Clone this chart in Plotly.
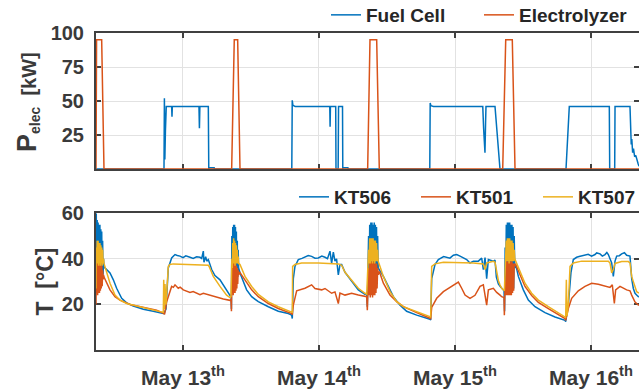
import pandas as pd
import plotly.graph_objects as go

# ---------------- data (time in hours since May 12, 00:00) ----------------
t_fc = [8.65, 20.65, 20.72, 20.80, 20.90, 21.05, 22.00, 22.06, 22.12, 26.82, 26.90, 26.98,
        28.47, 28.55, 28.60, 29.50, 29.55, 43.20, 43.28, 43.40, 43.80, 49.90, 49.96, 50.02,
        50.95, 51.00, 51.38, 51.45, 52.15, 52.20, 52.25, 53.10, 53.15, 67.55, 67.62, 67.75,
        68.20, 76.90, 77.05, 77.29, 77.40, 77.47, 79.06, 79.94, 91.59, 92.17, 99.23, 99.30,
        100.18, 100.24, 102.88, 103.00, 103.10, 103.20, 103.35, 103.50, 103.70, 103.90,
        104.10, 104.30, 104.47]
p_fc = [0, 0, 52, 7, 28, 46, 46, 38.5, 46, 46, 30, 46,
        46, 0, 1, 1, 0, 0, 50.5, 46.8, 46, 46, 31, 46,
        46, 0, 0, 46, 46, 0, 1, 1, 0, 0, 48.5, 46.5,
        46, 46, 30, 12, 35, 46, 46, 0, 0, 46, 46, 0,
        0, 46, 46, 30, 18, 22, 12, 15, 9, 10,
        6, 4, 2]

t_ely = [8.65, 8.75, 9.65, 10.06, 32.59, 33.05, 33.65, 34.06, 56.59, 57.00, 58.18, 58.64,
         80.42, 80.95, 82.11, 82.59, 104.47]
p_ely = [0, 95, 95, 0, 0, 95, 95, 0, 0, 95, 95, 0,
         0, 95, 95, 0, 0]

t_kt506 = [8.65, 8.70, 8.78, 8.86, 8.94, 9.02, 9.10, 9.18, 9.26, 9.34, 9.42, 9.50, 9.58, 9.66,
           9.74, 9.82, 9.90, 9.98, 10.06, 10.53, 11.12, 11.71, 12.29, 13.18, 14.06, 15.23,
           17.00, 18.76, 20.23, 20.65, 21.00, 21.41, 22.00, 22.59, 23.00, 23.47, 24.00, 24.50,
           25.23, 25.80, 26.40, 27.00, 27.30, 27.45, 27.59, 27.70, 27.88, 28.00, 28.20, 28.47,
           29.06, 29.64, 30.53, 31.41, 32.29, 32.47, 32.55,
           32.62, 32.70, 32.78, 32.86, 32.94, 33.02, 33.10, 33.18, 33.26, 33.34, 33.42, 33.50,
           33.58, 33.66, 33.74, 33.82, 34.06, 34.65, 35.23, 36.12, 37.29, 39.06, 40.82, 42.59,
           43.17, 43.29, 43.47, 43.76, 44.35, 45.00, 45.53, 46.10, 46.70, 47.30, 47.88, 48.50,
           49.06, 49.50, 49.94, 50.23, 50.53, 50.82, 51.10, 51.41, 51.70, 52.00, 52.59, 53.76,
           54.94, 56.12, 56.42, 56.53,
           56.75, 56.85, 56.95, 57.05, 57.15, 57.25, 57.35, 57.45, 57.55, 57.65, 57.75, 57.85,
           57.95, 58.05, 58.15, 58.25, 58.35, 58.45, 58.65, 59.36, 60.24, 61.12, 62.30, 63.47,
           65.24, 67.00, 67.59, 67.71, 67.89, 68.47, 69.06, 70.00, 70.53, 71.10, 71.71, 72.30,
           72.89, 73.50, 74.06, 74.65, 75.24, 76.12, 76.71, 77.00, 77.30, 77.59, 77.89, 78.77,
           79.06, 79.30, 79.65, 79.95, 80.24, 80.65, 80.75,
           80.85, 80.95, 81.05, 81.15, 81.25, 81.35, 81.45, 81.55, 81.65, 81.75, 81.85, 81.95,
           82.05, 82.15, 82.25, 82.35, 82.45, 82.55, 82.71, 83.18, 84.06, 84.94, 86.12, 87.88,
           89.65, 91.41, 91.53, 92.00, 92.47, 92.88, 93.47, 93.90, 94.94, 95.50, 96.10, 96.71,
           97.00, 97.59, 98.00, 98.47, 98.80, 99.06, 99.65, 99.94, 100.24, 100.53, 101.00,
           101.41, 101.90, 102.29, 102.88, 103.18, 103.47, 103.77, 104.35, 104.47]
kt506 = [28, 60, 30, 57, 28, 56, 29, 55, 27, 55, 28, 53, 29, 52,
         30, 48, 33, 40, 36.5, 35.3, 33.8, 30.8, 27.1, 22.7, 20.7, 19.3,
         17.9, 17.0, 16.3, 16.0, 18.0, 36.0, 40.4, 41.9, 41.5, 41.2, 40.5, 41.3,
         40.7, 40.2, 40.9, 40.7, 40.2, 42.5, 43.4, 38.5, 39.7, 41.0, 39.0, 39.7,
         35.3, 32.7, 30.8, 27.1, 24.0, 24.1, 18.0,
         50, 27, 54, 26, 55, 27, 55, 28, 54, 29, 52, 30,
         48, 32, 44, 36, 33.8, 30.0, 26.4, 23.4, 21.2, 19.0, 17.0, 16.0,
         15.3, 13.8, 31.3, 36.7, 39.7, 40.2, 40.7, 41.5, 41.1, 40.3, 40.4, 41.2,
         40.7, 40.1, 43.4, 38.0, 43.0, 39.0, 40.0, 33.0, 37.5, 37.5, 34.1, 30.0,
         26.4, 24.4, 24.9, 19.0,
         50, 26, 55, 25, 56, 25, 56, 26, 55, 25, 56, 26,
         55, 27, 54, 29, 50, 36, 35.3, 32.3, 27.9, 23.4, 19.7, 17.0,
         15.3, 14.1, 13.5, 13.2, 31.3, 37.5, 39.7, 41.0, 40.7, 40.3, 41.6, 41.9,
         41.2, 40.4, 39.7, 38.2, 39.0, 39.0, 40.3, 35.3, 40.6, 31.3, 39.7, 39.0,
         39.5, 32.0, 29.0, 28.0, 27.0, 26.0, 17.0,
         45, 27, 55, 26, 56, 25, 56, 25, 56, 26, 55, 25,
         55, 26, 54, 27, 50, 36, 37.5, 32.3, 26.4, 21.9, 19.0, 16.4,
         14.5, 13.0, 12.5, 19.7, 34.1, 39.7, 40.7, 41.0, 41.5, 42.0, 41.2, 41.9,
         42.6, 42.2, 41.2, 41.9, 42.8, 41.9, 38.2, 32.3, 39.0, 41.2, 41.4,
         42.2, 42.7, 41.6, 41.2, 31.3, 27.0, 24.9, 23.4, 23.5]

t_kt501 = [8.65, 8.70, 8.78, 8.86, 8.94, 9.02, 9.10, 9.18, 9.26, 9.34, 9.42, 9.50, 9.58, 9.66,
           9.74, 9.82, 9.90, 9.98, 10.06, 10.53, 11.12, 12.00, 12.88, 14.65, 17.00, 19.35,
           20.65, 20.75, 21.12, 22.00, 22.30, 22.59, 23.17, 23.50, 24.06, 24.60, 25.23, 25.80,
           26.41, 27.00, 27.59, 28.76, 29.94, 31.12, 32.29, 32.47, 32.55,
           32.62, 32.70, 32.78, 32.86, 32.94, 33.02, 33.10, 33.18, 33.26, 33.34, 33.42, 33.50,
           33.58, 33.66, 33.74, 33.82, 34.06, 34.94, 36.12, 37.29, 39.06, 40.82, 43.17, 43.29,
           43.47, 44.06, 45.53, 46.70, 47.29, 48.47, 49.06, 50.23, 50.82, 51.41, 51.70, 52.59,
           53.76, 54.94, 56.12, 56.42, 56.53,
           56.75, 56.85, 56.95, 57.05, 57.15, 57.25, 57.35, 57.45, 57.55, 57.65, 57.75, 57.85,
           57.95, 58.05, 58.15, 58.25, 58.35, 58.45, 58.65, 59.36, 60.53, 61.71, 62.89, 65.24,
           67.59, 67.71, 67.89, 68.77, 69.95, 71.12, 72.30, 72.59, 73.18, 73.77, 74.65, 75.53,
           76.42, 77.00, 77.59, 77.89, 78.77, 79.36, 79.95, 80.24, 80.65, 80.71, 80.78,
           80.85, 80.95, 81.05, 81.15, 81.25, 81.35, 81.45, 81.55, 81.65, 81.75, 81.85, 81.95,
           82.05, 82.15, 82.25, 82.35, 82.45, 82.55, 82.71, 83.47, 84.35, 85.53, 86.71, 88.47,
           90.24, 91.41, 91.53, 92.00, 92.59, 93.76, 94.94, 96.12, 97.29, 98.47, 99.35, 99.76,
           100.12, 100.35, 101.12, 102.29, 102.88, 103.18, 103.77, 104.35, 104.47]
kt501 = [20, 38, 25, 40, 24, 39, 25, 40, 25, 39, 26, 38, 27, 37,
         28, 35, 31, 33, 32, 29.3, 26.4, 23.4, 21.9, 20.0, 18.7, 17.5,
         16.0, 15.6, 21.2, 27.9, 27.5, 28.6, 27.1, 27.6, 26.4, 25.8, 25.3, 25.7,
         24.9, 24.3, 24.9, 24.1, 23.0, 22.4, 21.8, 22.1, 17.0,
         36, 25, 39, 24, 39, 25, 38, 25, 38, 26, 37, 27,
         36, 29, 35, 33, 34.0, 30.8, 26.4, 23.4, 20.4, 18.2, 16.0, 15.5,
         19.7, 26.0, 27.1, 28.6, 27.0, 26.4, 27.0, 24.9, 25.5, 20.4, 25.0, 24.1,
         24.9, 24.1, 23.4, 23.4, 17.5,
         36, 24, 39, 23, 39, 24, 39, 23, 39, 24, 39, 24,
         38, 25, 38, 27, 36, 33, 34.5, 29.3, 24.1, 21.2, 19.0, 16.4,
         14.1, 13.8, 18.7, 22.7, 25.6, 27.4, 29.3, 29.8, 27.1, 24.1, 22.7, 24.0,
         27.9, 28.6, 19.7, 26.4, 27.1, 25.3, 24.1, 23.4, 23.0, 15.3, 23.0,
         30, 24, 39, 24, 39, 24, 39, 24, 39, 24, 39, 24,
         39, 25, 38, 26, 38, 37, 37.5, 33.0, 27.9, 23.9, 20.9, 18.2,
         15.5, 13.8, 13.0, 18.2, 22.7, 26.0, 27.9, 29.3, 28.9, 27.9, 27.5, 28.6,
         20.4, 26.4, 27.9, 26.4, 26.0, 24.1, 21.0, 19.7, 19.7]

t_kt507 = [8.65, 8.70, 8.78, 8.86, 8.94, 9.02, 9.10, 9.18, 9.26, 9.34, 9.42, 9.50, 9.58, 9.66,
           9.74, 9.82, 9.90, 9.98, 10.06, 10.53, 11.12, 12.00, 12.88, 14.06, 16.41, 19.35,
           20.53, 20.60, 20.70, 20.82, 21.00, 21.41, 21.70, 22.29, 25.00, 28.47, 28.65, 29.35,
           30.53, 31.70, 32.29, 32.47,
           32.62, 32.70, 32.78, 32.86, 32.94, 33.02, 33.10, 33.18, 33.26, 33.34, 33.42, 33.50,
           33.58, 33.66, 33.74, 33.82, 34.06, 34.94, 36.12, 37.29, 39.06, 40.82, 43.17, 43.29,
           43.35, 43.76, 44.94, 47.88, 51.41, 52.00, 52.59, 53.76, 54.94, 56.12, 56.42,
           56.75, 56.85, 56.95, 57.05, 57.15, 57.25, 57.35, 57.45, 57.55, 57.65, 57.75, 57.85,
           57.95, 58.05, 58.15, 58.25, 58.35, 58.45, 58.65, 59.36, 60.53, 61.71, 62.89, 65.24,
           67.59, 67.71, 67.89, 68.47, 69.95, 72.89, 75.24, 77.00, 77.30, 77.59, 78.77, 79.06,
           79.36, 79.65, 79.95, 80.24, 80.71,
           80.85, 80.95, 81.05, 81.15, 81.25, 81.35, 81.45, 81.55, 81.65, 81.75, 81.85, 81.95,
           82.05, 82.15, 82.25, 82.35, 82.45, 82.55, 82.71, 83.47, 84.35, 85.53, 86.71, 88.47,
           90.24, 91.41, 91.53, 91.65, 91.77, 92.00, 92.30, 92.88, 94.35, 96.71, 99.06, 99.35,
           99.65, 99.94, 100.24, 101.41, 102.59, 102.88, 103.18, 103.47, 104.06, 104.47]
kt507 = [27, 45, 38, 48, 38, 48, 37, 47, 38, 47, 37, 46, 38, 45,
         37, 44, 38, 40, 38, 34.0, 29.3, 24.1, 21.9, 20.4, 19.0, 17.0,
         16.5, 30.8, 18.0, 29.0, 20.0, 36.7, 37.5, 37.8, 37.6, 37.2, 36.5, 32.3,
         27.9, 24.1, 23.0, 23.5,
         40, 36, 47, 38, 49, 38, 48, 37, 47, 38, 46, 38,
         44, 38, 41, 38, 37.5, 32.3, 27.9, 24.4, 21.1, 19.0, 16.7, 16.5,
         36.7, 37.5, 38.2, 38.2, 37.8, 37.2, 34.1, 30.8, 27.1, 24.9, 24.5,
         44, 38, 49, 38, 49, 39, 49, 38, 49, 39, 48, 38,
         48, 39, 47, 39, 44, 39, 37.5, 32.3, 25.6, 21.2, 19.0, 16.7,
         14.5, 14.5, 36.7, 37.8, 38.5, 38.5, 38.2, 37.8, 35.3, 38.2, 38.9, 38.5,
         34.0, 30.5, 28.5, 27.1, 26.0,
         40, 38, 48, 39, 49, 39, 49, 38, 49, 39, 48, 39,
         48, 39, 47, 39, 44, 40, 39.0, 34.5, 29.3, 24.9, 21.9, 19.0,
         16.4, 14.5, 14.0, 30.8, 15.0, 20.0, 36.7, 38.2, 39.0, 39.0, 39.0, 38.2,
         33.8, 35.3, 38.0, 38.8, 38.8, 38.2, 32.3, 30.0, 25.6, 25.0]

day_ticks = ["2019-05-13", "2019-05-14", "2019-05-15", "2019-05-16"]
day_labels = ["May 13<sup>th</sup>", "May 14<sup>th</sup>", "May 15<sup>th</sup>", "May 16<sup>th</sup>"]
p_ticks = [25, 50, 75, 100]
t_ticks = [20, 40, 60]

# ---------------- figure ----------------
BASE = pd.Timestamp("2019-05-12")


def to_time(hours):
    return [BASE + pd.Timedelta(hours=h) for h in hours]


BLUE, ORANGE, YELLOW = "#0072BD", "#D95319", "#EDB120"
FONT = "Liberation Sans, Arial, sans-serif"
AX = "#404040"
TXT = "#3a3a3a"
LW = 1.5

fig = go.Figure()
fig.add_trace(go.Scatter(x=to_time(t_fc), y=p_fc, name="Fuel Cell", mode="lines",
                         line=dict(color=BLUE, width=LW), xaxis="x", yaxis="y", legend="legend"))
fig.add_trace(go.Scatter(x=to_time(t_ely), y=p_ely, name="Electrolyzer", mode="lines",
                         line=dict(color=ORANGE, width=LW), xaxis="x", yaxis="y", legend="legend"))
fig.add_trace(go.Scatter(x=to_time(t_kt506), y=kt506, name="KT506", mode="lines",
                         line=dict(color=BLUE, width=LW), xaxis="x2", yaxis="y2", legend="legend2"))
fig.add_trace(go.Scatter(x=to_time(t_kt501), y=kt501, name="KT501", mode="lines",
                         line=dict(color=ORANGE, width=LW), xaxis="x2", yaxis="y2", legend="legend2"))
fig.add_trace(go.Scatter(x=to_time(t_kt507), y=kt507, name="KT507", mode="lines",
                         line=dict(color=YELLOW, width=LW), xaxis="x2", yaxis="y2", legend="legend2"))

W, H = 639, 392
L = 96
PW = W - L
xr = [BASE + pd.Timedelta(hours=8.65), BASE + pd.Timedelta(hours=104.47)]

common_x = dict(type="date", range=xr, tickvals=day_ticks, ticktext=day_labels,
                ticks="inside", ticklen=5, tickwidth=1.5, tickcolor=AX,
                showline=True, linecolor=AX, linewidth=2, mirror="ticks",
                showgrid=True, gridcolor="#e2e2e2", gridwidth=1, zeroline=False,
                layer="below traces",
                tickfont=dict(family=FONT, size=21, color=TXT, weight="bold"))
common_y = dict(ticks="inside", ticklen=5, tickwidth=1.5, tickcolor=AX,
                showline=True, linecolor=AX, linewidth=2, mirror="ticks",
                showgrid=True, gridcolor="#e2e2e2", gridwidth=1, zeroline=False,
                layer="below traces", ticklabelstandoff=6,
                tickfont=dict(family=FONT, size=20, color=TXT, weight="bold"))


def py(pix):
    return (H - pix) / H


def px(pix):
    return (pix - L) / PW


fig.update_layout(
    width=W, height=H,
    margin=dict(l=L, r=0, t=0, b=0, autoexpand=False),
    paper_bgcolor="white", plot_bgcolor="white",
    xaxis=dict(common_x, domain=[0, 1], anchor="y", showticklabels=False),
    xaxis2=dict(common_x, domain=[0, 1], anchor="y2", showticklabels=True,
                ticklabelstandoff=8),
    yaxis=dict(common_y, domain=[py(169), py(33)], range=[0, 100], tickvals=p_ticks,
               anchor="x"),
    yaxis2=dict(common_y, domain=[py(350), py(213.3)], range=[0, 60], tickvals=t_ticks,
                anchor="x2"),
    legend=dict(orientation="h", x=px(326), xanchor="left", y=py(15), yanchor="middle",
                entrywidth=108, bgcolor="rgba(0,0,0,0)",
                font=dict(family=FONT, size=19, color="#262626", weight="bold")),
    legend2=dict(orientation="h", x=px(294), xanchor="left", y=py(197), yanchor="middle",
                 entrywidth=77, bgcolor="rgba(0,0,0,0)",
                 font=dict(family=FONT, size=19, color="#262626", weight="bold")),
    showlegend=True,
    annotations=[
        dict(text='<span style="font-size:27px">P</span><sub>elec</sub>\u00a0\u00a0[kW]',
             xref="paper", yref="paper", x=px(27), y=py(102),
             xanchor="center", yanchor="middle", textangle=-90, showarrow=False,
             font=dict(family=FONT, size=20, color=TXT, weight="bold")),
        dict(text="T\u00a0\u00a0[°C]",
             xref="paper", yref="paper", x=px(45), y=py(281.5),
             xanchor="center", yanchor="middle", textangle=-90, showarrow=False,
             font=dict(family=FONT, size=23, color=TXT, weight="bold")),
    ],
)

fig.write_html("out.html")
